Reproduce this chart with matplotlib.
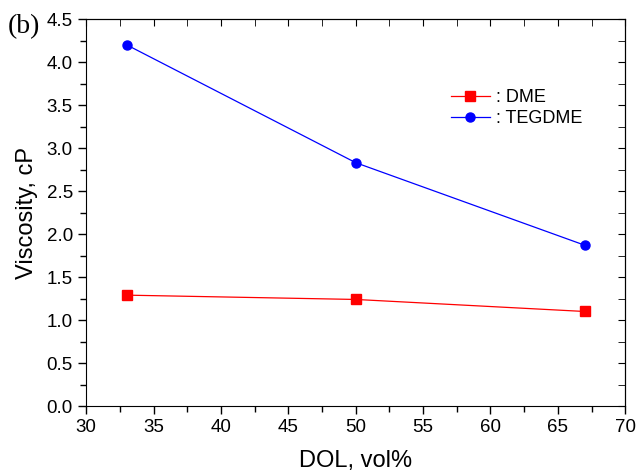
import matplotlib
matplotlib.use('Agg')
from matplotlib import pyplot as plt
from matplotlib.ticker import MultipleLocator

dol = [33, 50, 67]
dme = [1.29, 1.24, 1.10]
tegdme = [4.20, 2.83, 1.87]

plt.rcParams['font.family'] = ['Liberation Sans', 'DejaVu Sans']

fig = plt.figure(figsize=(6.38, 4.75), dpi=100)
ax = fig.add_axes([0.135, 0.145, 0.845, 0.815])

ax.plot(dol, dme, color='red', marker='s', markersize=6.5, linewidth=0.9, label=': DME')
ax.plot(dol, tegdme, color='blue', marker='o', markersize=6.5, linewidth=0.9, label=': TEGDME')

ax.set_xlim(30, 70)
ax.set_ylim(0, 4.5)
ax.xaxis.set_major_locator(MultipleLocator(5))
ax.xaxis.set_minor_locator(MultipleLocator(2.5))
ax.yaxis.set_major_locator(MultipleLocator(0.5))
ax.yaxis.set_minor_locator(MultipleLocator(0.25))
ax.yaxis.set_major_formatter(matplotlib.ticker.FormatStrFormatter('%.1f'))

ax.tick_params(which='both', direction='out', labelsize=13.5, width=1)
ax.tick_params(which='major', length=6)
ax.tick_params(which='minor', length=4)
# mirrored axes with inward ticks
secx = ax.secondary_xaxis('top')
secx.xaxis.set_major_locator(MultipleLocator(5))
secx.xaxis.set_minor_locator(MultipleLocator(2.5))
secx.tick_params(which='both', direction='in', labeltop=False, length=5)
secy = ax.secondary_yaxis('right')
secy.yaxis.set_major_locator(MultipleLocator(0.5))
secy.yaxis.set_minor_locator(MultipleLocator(0.25))
secy.tick_params(which='both', direction='in', labelright=False, length=5)

ax.set_xlabel('DOL, vol%', fontsize=17, labelpad=10)
ax.set_ylabel('Viscosity, cP', fontsize=17, labelpad=6)

fig.text(0.012, 0.93, '(b)', fontsize=20, family='Liberation Serif')

ax.legend(loc='upper right', bbox_to_anchor=(0.95, 0.86), frameon=False,
          fontsize=13, handlelength=2.2, handletextpad=0.3, labelspacing=0.2)

fig.savefig('out.png', dpi=100)
